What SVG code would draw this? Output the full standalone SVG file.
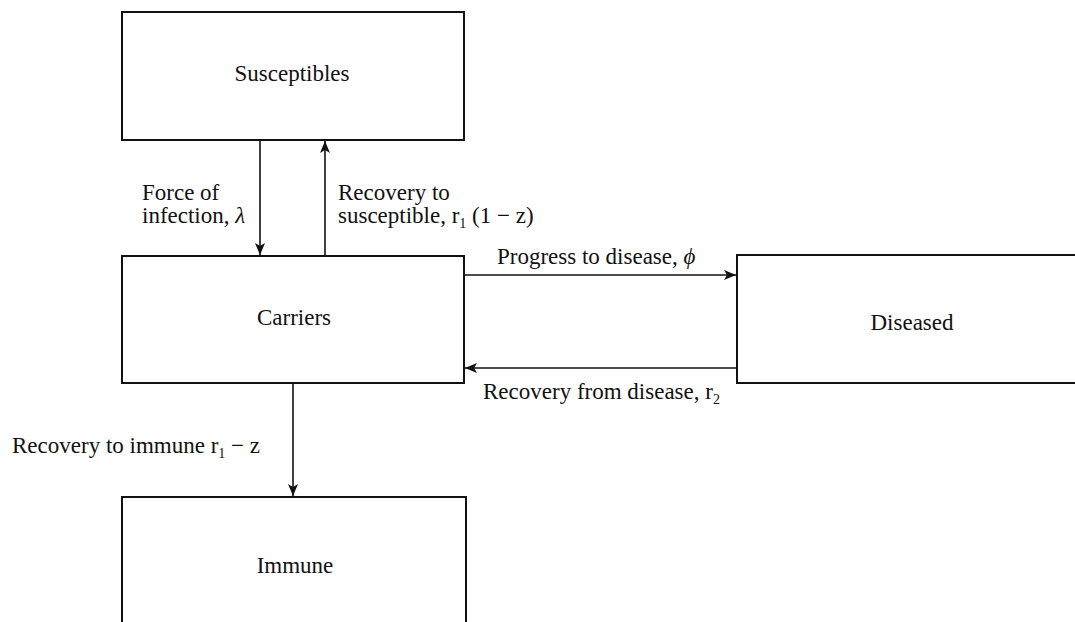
<svg xmlns="http://www.w3.org/2000/svg" width="1075" height="622" viewBox="0 0 1075 622">
<defs>
<marker id="ah" viewBox="0 0 12 10" refX="12" refY="5" markerWidth="12" markerHeight="10" markerUnits="userSpaceOnUse" orient="auto">
<path d="M0,0 L12,5 L0,10 L3,5 z" fill="#111"/>
</marker>
<style>
.box{fill:#fff;stroke:#111;stroke-width:2}
.lbl{font-family:"Liberation Serif","Times New Roman",serif;font-size:23px;fill:#111}
.mid{text-anchor:middle}
.sub{font-size:14px}
.conn{stroke:#111;stroke-width:1.6;fill:none;marker-end:url(#ah)}
</style>
</defs>
<rect width="1075" height="622" fill="#fff"/>
<g id="susceptibles">
<rect class="box" x="122" y="12" width="342" height="128"/>
<text class="lbl mid" x="292" y="81">Susceptibles</text>
</g>
<g id="carriers">
<rect class="box" x="122" y="256" width="342" height="127"/>
<text class="lbl mid" x="294" y="325">Carriers</text>
</g>
<g id="diseased">
<rect class="box" x="737" y="255" width="360" height="128"/>
<text class="lbl mid" x="912" y="330">Diseased</text>
</g>
<g id="immune">
<rect class="box" x="122" y="497" width="344" height="140"/>
<text class="lbl mid" x="295" y="573">Immune</text>
</g>
<g id="connectors">
<line class="conn" x1="260" y1="141" x2="260" y2="255"/>
<line class="conn" x1="325" y1="255" x2="325" y2="141"/>
<line class="conn" x1="465" y1="275" x2="736" y2="275"/>
<line class="conn" x1="736" y1="368" x2="465" y2="368"/>
<line class="conn" x1="293" y1="384" x2="293" y2="496"/>
<text class="lbl" x="142" y="200">Force of</text>
<text class="lbl" x="142" y="223">infection, <tspan font-style="italic">λ</tspan></text>
<text class="lbl" x="338" y="200">Recovery to</text>
<text class="lbl" x="338" y="223">susceptible, r<tspan class="sub" dy="5">1</tspan><tspan dy="-5"> (1 − z)</tspan></text>
<text class="lbl" x="497" y="264">Progress to disease, <tspan font-style="italic">ϕ</tspan></text>
<text class="lbl" x="483" y="399">Recovery from disease, r<tspan class="sub" dy="5">2</tspan></text>
<text class="lbl" x="12" y="453">Recovery to immune r<tspan class="sub" dy="5">1</tspan><tspan dy="-5"> − z</tspan></text>
</g>
</svg>
